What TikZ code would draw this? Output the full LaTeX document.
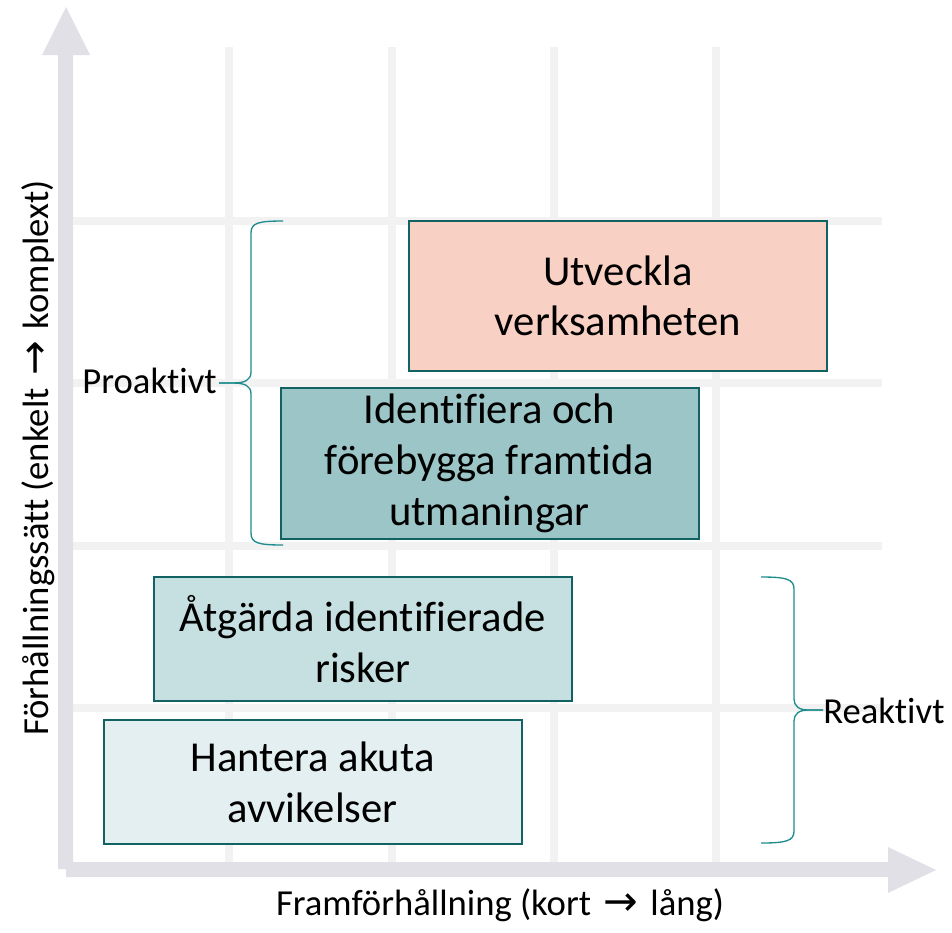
\documentclass[tikz,border=0pt]{standalone}
\usepackage{fontspec}
\setmainfont{Carlito}[Ligatures=NoCommon]
\newfontfamily\pilfont{DejaVu Sans}

\definecolor{rutnat}{RGB}{242,242,242}
\definecolor{axel}{RGB}{224,224,230}
\definecolor{kant}{RGB}{18,98,100}
\definecolor{klamfarg}{RGB}{30,140,140}
\definecolor{utvfarg}{RGB}{249,208,196}
\definecolor{idfarg}{RGB}{155,197,199}
\definecolor{atgfarg}{RGB}{198,224,225}
\definecolor{hanfarg}{RGB}{227,239,240}

\newcommand{\pil}{\hspace{3pt}{\pilfont\fontsize{31}{31}\selectfont →}\hspace{3pt}}

\begin{document}
\begin{tikzpicture}[x=0.75pt, y=-0.75pt]
        \tikzset{
            ruta/.style={
                draw=kant,
                fill=#1,
                line width=1.5pt,
                minimum width=313.5pt,
                inner sep=0pt,
                align=center,
                font=\fontsize{32}{38}\selectfont
            },
            etikett/.style={
                inner sep=0pt,
                font=\fontsize{27.5}{32}\selectfont
            },
            klammer/.style={
                draw=klamfarg,
                line width=1pt
            }
        }
        \useasboundingbox (0,0) rectangle (952,932);

        %rutnät
        \draw[rutnat, line width=6pt] (229,47) -- (229,862);
        \draw[rutnat, line width=6pt] (392,47) -- (392,862);
        \draw[rutnat, line width=6pt] (554,47) -- (554,862);
        \draw[rutnat, line width=6pt] (716,47) -- (716,862);

        \draw[rutnat, line width=6pt] (73,221) -- (882,221);
        \draw[rutnat, line width=6pt] (73,383) -- (882,383);
        \draw[rutnat, line width=6pt] (73,546) -- (882,546);
        \draw[rutnat, line width=6pt] (73,708) -- (882,708);

        %axlar
        \fill[axel] (58,869) -- (58,55) -- (42,55) -- (66,7) -- (90,55) -- (73,55) -- (73,869) -- cycle;
        \fill[axel] (66,862) -- (888,862) -- (888,847) -- (936,870) -- (888,893) -- (888,877) -- (66,877) -- cycle;

        %rutor
        \node[ruta=utvfarg, minimum height=112.5pt] (utveckla) at (618,296) {Utveckla\\verksamheten};
        \node[ruta=idfarg, minimum height=113.25pt] (identifiera) at (489.5,463.5) {Identifiera och\\förebygga framtida\\utmaningar};
        \node[ruta=atgfarg, minimum height=93pt] (atgarda) at (363,639) {Åtgärda identifierade\\risker};
        \node[ruta=hanfarg, minimum height=93pt] (hantera) at (312.5,782) {Hantera akuta\\avvikelser};

        %klamrar
        \node[etikett, anchor=base east] (proaktivt) at (217,393) {Proaktivt};
        \node[etikett, anchor=base west] (reaktivt) at (823,723) {Reaktivt};

        \draw[klammer] (283,221) .. controls (258,221) and (251,223) .. (251,233) -- (251,372)
            .. controls (251,380) and (245,383) .. (233,383) -- (219,383);
        \draw[klammer] (219,383) -- (233,383) .. controls (245,383) and (251,386) .. (251,394)
            -- (251,533) .. controls (251,543) and (258,545) .. (283,545);

        \draw[klammer] (761,577) .. controls (786,577) and (794,579) .. (794,589) -- (794,699)
            .. controls (794,706) and (799,710) .. (808,710) -- (823,710);
        \draw[klammer] (823,710) -- (808,710) .. controls (799,710) and (794,714) .. (794,721)
            -- (794,831) .. controls (794,841) and (786,843) .. (761,843);

        %axeltexter
        \node[etikett, anchor=base] (xtext) at (500,915) {Framförhållning (kort \pil{} lång)};
        \node[etikett, anchor=base, rotate=90] (ytext) at (48,458) {Förhållningssätt (enkelt \pil{} komplext)};

    \end{tikzpicture}
\end{document}
